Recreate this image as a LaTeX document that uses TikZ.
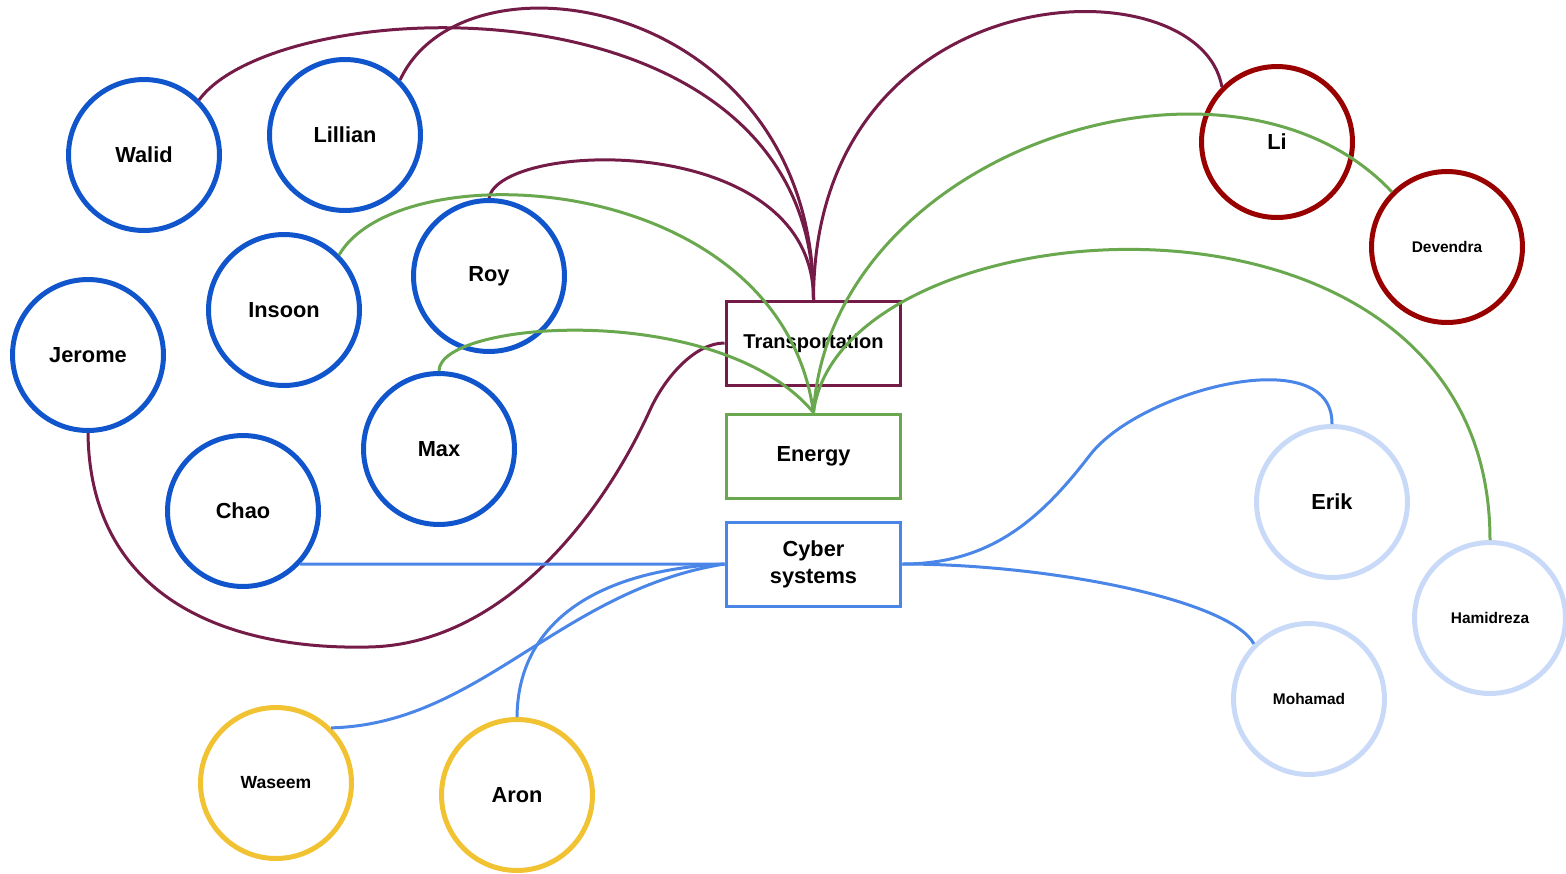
\documentclass[tikz,border=0pt]{standalone}
\usepackage{fontspec}
\setmainfont{Liberation Sans}
\usepackage{tikz}
\usetikzlibrary{positioning}

\definecolor{teamblue}{HTML}{1155CC}
\definecolor{teamred}{HTML}{990000}
\definecolor{teampale}{HTML}{C9DAF8}
\definecolor{teamgold}{HTML}{F1C232}
\definecolor{transcol}{HTML}{741B47}
\definecolor{energycol}{HTML}{6AA84F}
\definecolor{cybercol}{HTML}{4A86E8}

\begin{document}
\begin{tikzpicture}[x=0.02cm, y=-0.02cm,
    person/.style={circle, draw=#1, line width=0.1cm, minimum size=3.02cm, inner sep=0pt, font=\bfseries\fontsize{12.4}{14}\selectfont},
    smallname/.style={font=\bfseries\fontsize{8.8}{10}\selectfont},
    topic/.style={rectangle, draw=#1, line width=0.06cm, minimum width=3.5cm, minimum height=1.68cm, inner sep=0pt, align=center, font=\bfseries\fontsize{12.4}{15.4}\selectfont},
    link/.style={draw=#1, line width=0.06cm}]
    \useasboundingbox (0,0) rectangle (1566,873);

    % Topic boxes
    \node[topic=transcol, font=\bfseries\fontsize{11.4}{14}\selectfont] (trans) at (813.5,343) {Transportation};
    \node[topic=energycol] (energy) at (813.5,456) {Energy};
    \node[topic=cybercol] (cyber) at (813.5,564) {Cyber\\systems};

    % People on the left
    \node[person=teamblue] (walid) at (144,155) {Walid};
    \node[person=teamblue] (lillian) at (345,135) {Lillian};
    \node[person=teamblue] (insoon) at (284,310) {Insoon};
    \node[person=teamblue] (roy) at (489,276) {Roy};
    \node[person=teamblue] (jerome) at (88,355) {Jerome};
    \node[person=teamblue] (max) at (439,449) {Max};
    \node[person=teamblue] (chao) at (243,511) {Chao};
    \node[person=teamgold, font=\bfseries\fontsize{10}{12}\selectfont] (waseem) at (276,783) {Waseem};
    \node[person=teamgold] (aron) at (517,795) {Aron};

    % People on the right
    \node[person=teamred] (li) at (1277,142) {Li};
    \node[person=teamred, smallname] (devendra) at (1447,247) {Devendra};
    \node[person=teampale] (erik) at (1332,502) {Erik};
    \node[person=teampale, smallname] (hamidreza) at (1490,618) {Hamidreza};
    \node[person=teampale, smallname] (mohamad) at (1309,699) {Mohamad};

    % Transportation links
    \draw[link=transcol] (walid.45) .. controls (280,-10) and (814,-30) .. (trans.north);
    \draw[link=transcol] (lillian.45) .. controls (465,-60) and (814,0) .. (trans.north);
    \draw[link=transcol] (roy.90) .. controls (500,140) and (814,130) .. (trans.north);
    \draw[link=transcol] (li.135) .. controls (1200,-40) and (814,-30) .. (trans.north);
    \draw[link=transcol] (jerome.south) .. controls (90,600) and (230,650) .. (368,647)
        .. controls (500,645) and (600,520) .. (650,410)
        .. controls (665,377) and (695,343) .. (trans.west);

    % Energy links
    \draw[link=energycol] (insoon.45) .. controls (400,150) and (780,170) .. (energy.north);
    \draw[link=energycol] (max.90) .. controls (439,320) and (720,300) .. (energy.north);
    \draw[link=energycol] (energy.north) .. controls (830,150) and (1230,20) .. (devendra.135);
    \draw[link=energycol] (energy.north) .. controls (840,200) and (1490,150) .. (hamidreza.90);

    % Cyber systems links
    \draw[link=cybercol] (chao.-43) -- (cyber.west);
    \draw[link=cybercol] (waseem.45) .. controls (480,724) and (560,590) .. (cyber.west);
    \draw[link=cybercol] (aron.90) .. controls (518,620) and (600,570) .. (cyber.west);
    \draw[link=cybercol] (cyber.east) .. controls (990,564) and (1040,520) .. (1090,455)
        .. controls (1140,390) and (1333,340) .. (erik.north);
    \draw[link=cybercol] (cyber.east) .. controls (1050,564) and (1230,600) .. (mohamad.135);

\end{tikzpicture}
\end{document}
